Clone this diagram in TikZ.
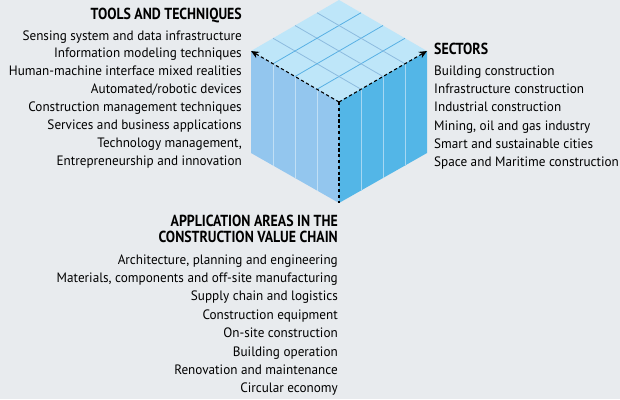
\documentclass[tikz,border=0pt]{standalone}
\usepackage{fontspec}
\usetikzlibrary{calc,arrows.meta}
\setmainfont{PT Sans}[FakeStretch=0.97]
\newfontfamily\headfont{PT Sans}[FakeStretch=0.865]
\definecolor{bg}{HTML}{E8EBEE}
\definecolor{topc}{HTML}{BEE6F9}
\definecolor{leftc}{HTML}{93C6EE}
\definecolor{rightc}{HTML}{53B6E7}
\definecolor{gridA}{HTML}{58B0E4}
\definecolor{gridB}{HTML}{8DBBDF}
\definecolor{sepL}{HTML}{C0DFF5}
\definecolor{sepR}{HTML}{A6D7F2}
\tikzset{
  item/.style={inner sep=0pt, font=\fontsize{13.6}{18}\selectfont, text=black},
  head/.style={inner sep=0pt, font=\fontsize{16}{16}\selectfont\headfont\bfseries, text=black},
  axis/.style={black, line width=1.1pt, dash pattern=on 3.2pt off 2.6pt},
}
\begin{document}
\begin{tikzpicture}[x=1pt,y=-1pt]
\fill[bg] (0,0) rectangle (620,399);
\useasboundingbox (0,0) rectangle (620,399);
% cube corners
\coordinate (T) at (339,0);
\coordinate (L) at (251,51);
\coordinate (F) at (339,102);
\coordinate (R) at (427,51);
\coordinate (BL) at (251,153);
\coordinate (BF) at (339,203);
\coordinate (BR) at (427,153);
\fill[topc] (T) -- (L) -- (F) -- (R) -- cycle;
\fill[leftc] (L) -- (F) -- (BF) -- (BL) -- cycle;
\fill[rightc] (F) -- (R) -- (BR) -- (BF) -- cycle;
\foreach \k in {1,2,3} {
  \draw[gridA, line width=0.8pt] ($(F)!\k/4!(L)$) -- ++(88,-51);
  \draw[gridB, line width=0.8pt] ($(F)!\k/4!(R)$) -- ++(-88,-51);
  \draw[sepL, line width=0.8pt] ($(L)!\k/4!(F)$) -- ($(BL)!\k/4!(BF)$);
  \draw[sepR, line width=0.8pt] ($(F)!\k/4!(R)$) -- ($(BF)!\k/4!(BR)$);
}
\draw[axis, -{Stealth[length=8pt,width=7pt]}] (F) -- (L);
\draw[axis, -{Stealth[length=8pt,width=7pt]}] (F) -- (R);
\draw[axis] (F) -- (BF);
% tools
\node[head, anchor=base east] (th) at (242,19.5) {TOOLS AND TECHNIQUES};
\foreach \t [count=\i] in {Sensing system and data infrastructure,Information modeling techniques,Human-machine interface mixed realities,Automated/robotic devices,Construction management techniques,Services and business applications,{Technology management,},Entrepreneurship and innovation}
  \node[item, anchor=base east] (t\i) at (242,{40+17.95*(\i-1)}) {\t};
% sectors
\node[head, anchor=base west] (sh) at (434,54.3) {SECTORS};
\foreach \t [count=\i] in {Building construction,Infrastructure construction,Industrial construction,{Mining, oil and gas industry},Smart and sustainable cities,Space and Maritime construction}
  \node[item, anchor=base west] (s\i) at (434,{75.3+18.3*(\i-1)}) {\t};
% application areas
\node[head, anchor=base east] (ah1) at (338,226.7) {APPLICATION AREAS IN THE};
\node[head, anchor=base east] (ah2) at (338,242.7) {CONSTRUCTION VALUE CHAIN};
\foreach \t [count=\i] in {{Architecture, planning and engineering},{Materials, components and off-site manufacturing},Supply chain and logistics,Construction equipment,On-site construction,Building operation,Renovation and maintenance,Circular economy}
  \node[item, anchor=base east] (a\i) at (338,{264+18.4*(\i-1)}) {\t};
\end{tikzpicture}
\end{document}
